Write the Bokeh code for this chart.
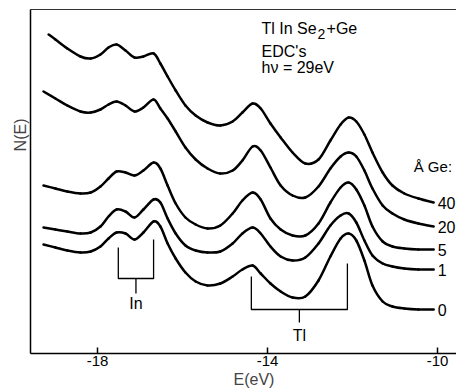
from bokeh.plotting import figure
from bokeh.models import Range1d, LinearAxis, FixedTicker, Title, ColumnDataSource
from bokeh.embed import file_html
from bokeh.resources import INLINE
from bokeh.core.properties import value

# Energy grid (eV) at which the EDC curves were read
E_GRID = [-19.27, -18.99, -18.71, -18.40, -18.16, -17.93, -17.74, -17.55, -17.34,
          -17.13, -16.92, -16.68, -16.52, -16.35, -16.16, -15.93, -15.69, -15.41,
          -15.11, -14.82, -14.59, -14.35, -14.16, -13.93, -13.69, -13.41, -13.11,
          -12.80, -12.52, -12.28, -12.09, -11.91, -11.72, -11.53, -11.29, -11.06,
          -10.78, -10.45, -10.09]
E_40 = [-19.15] + E_GRID[1:]

# N(E), arbitrary units (curves offset as in the figure)
N_40 = [319, 314, 305, 297, 295, 299, 306, 309, 303, 296, 297, 300,
        290, 277, 263, 248, 238, 231, 228, 232, 241, 250, 245, 230,
        216, 201, 190, 194, 213, 229, 236, 232, 219, 201, 181, 168,
        160, 155, 151]
N_20 = [262, 255, 248, 242, 241, 244, 249, 252, 248, 242, 246, 254,
        245, 235, 222, 206, 194, 185, 180, 183, 193, 207, 203, 186,
        168, 158, 156, 167, 185, 197, 201, 197, 183, 165, 148, 140,
        134, 130, 127]
N_5 = [168, 165, 162, 160, 161, 167, 175, 182, 181, 178, 183, 191,
       185, 168, 150, 136, 129, 125, 128, 140, 153, 161, 154, 135,
       124, 118, 118, 130, 151, 166, 171, 164, 148, 127, 112, 107,
       105, 104, 104]
N_1 = [126, 124, 122, 120, 121, 127, 137, 144, 142, 136, 144, 154,
       151, 135, 120, 108, 103, 101, 102, 110, 120, 126, 120, 107,
       97, 93, 96, 110, 128, 138, 140, 131, 113, 98, 90, 87,
       85, 84, 84]
N_0 = [109, 106, 103, 101, 102, 107, 115, 121, 120, 114, 121, 132,
       127, 110, 95, 81, 72, 68, 70, 77, 84, 88, 80, 70,
       62, 56, 57, 73, 97, 115, 120, 113, 93, 68, 52, 47,
       45, 44, 44]

COVERAGE_LABELS = ["40", "20", "5", "1", "0"]
X_TICKS = [-18, -14, -10]

# Peak markers (eV)
IN_PEAKS = [-17.51, -16.68]
TL_PEAKS = [-14.38, -12.12]

FONT = "Liberation Sans"

p = figure(width=456, height=389, output_backend="svg", toolbar_location=None,
           x_range=Range1d(-19.576, -9.553), y_range=Range1d(0, 344),
           min_border_left=30, min_border_right=0, min_border_top=9,
           min_border_bottom=36)
p.outline_line_color = None
p.xgrid.visible = False
p.ygrid.visible = False
p.background_fill_color = "white"
p.border_fill_color = "white"

# bottom axis
xa = p.xaxis[0]
xa.ticker = FixedTicker(ticks=X_TICKS)
xa.major_label_overrides = {t: str(t) for t in X_TICKS}
xa.major_tick_in = 6
xa.major_tick_out = 0
xa.minor_tick_line_color = None
xa.major_label_standoff = 2
xa.axis_line_width = 1.5
xa.major_tick_line_width = 1.5
xa.major_label_text_font = FONT
xa.major_label_text_font_size = "15px"
xa.major_label_text_color = "black"

# left axis
ya = p.yaxis[0]
ya.ticker = FixedTicker(ticks=[])
ya.major_tick_out = 0
ya.major_tick_in = 0
ya.minor_tick_line_color = None
ya.major_label_standoff = 0
ya.axis_label_standoff = 0
ya.axis_line_width = 1.5

# top border
top = LinearAxis(ticker=FixedTicker(ticks=[]), major_tick_out=0, major_tick_in=0,
                 minor_tick_line_color=None, major_label_standoff=0,
                 axis_label_standoff=0,
                 axis_line_width=1.2, axis_line_color="#333333")
p.add_layout(top, "above")

# axis titles
p.add_layout(Title(text="N(E)", align="right", offset=109, standoff=4,
                   text_font=FONT, text_font_size="16px",
                   text_font_style="normal"), "left")
p.add_layout(Title(text="E(eV)", align="left", offset=203, standoff=0,
                   text_font=FONT, text_font_size="16px",
                   text_font_style="normal"), "below")


def smooth_segments(xs, ys):
    """Catmull-Rom spline through the read points, as cubic Bezier segments."""
    px = [xs[0]] + list(xs) + [xs[-1]]
    py = [ys[0]] + list(ys) + [ys[-1]]
    seg = dict(x0=[], y0=[], x1=[], y1=[], cx0=[], cy0=[], cx1=[], cy1=[])
    for i in range(1, len(px) - 2):
        seg["x0"].append(px[i]); seg["y0"].append(py[i])
        seg["x1"].append(px[i + 1]); seg["y1"].append(py[i + 1])
        seg["cx0"].append(px[i] + (px[i + 1] - px[i - 1]) / 6)
        seg["cy0"].append(py[i] + (py[i + 1] - py[i - 1]) / 6)
        seg["cx1"].append(px[i + 1] - (px[i + 2] - px[i]) / 6)
        seg["cy1"].append(py[i + 1] - (py[i + 2] - py[i]) / 6)
    return ColumnDataSource(seg)


curves = [(E_40, N_40), (E_GRID, N_20), (E_GRID, N_5), (E_GRID, N_1), (E_GRID, N_0)]
for xs, ys in curves:
    p.bezier(x0="x0", y0="y0", x1="x1", y1="y1", cx0="cx0", cy0="cy0",
             cx1="cx1", cy1="cy1", source=smooth_segments(xs, ys),
             line_color="black", line_width=2.5, line_cap="round")

# coverage labels at the curve ends
ends = ColumnDataSource(dict(x=[c[0][-1] for c in curves],
                             y=[c[1][-1] for c in curves],
                             t=COVERAGE_LABELS))
p.text(x="x", y="y", text="t", source=ends, x_offset=4,
       text_align="left", text_baseline="middle",
       text_font=value(FONT), text_font_size="16px", text_color="black")


# peak brackets
def bracket(peaks, top_l, top_r, base, stem_end):
    l, r = peaks
    m = (l + r) / 2
    p.multi_line(xs=[[l, l, r, r], [m, m]], ys=[[top_l, base, base, top_r], [base, stem_end]],
                 line_color="black", line_width=1.3)
    return m


m_in = bracket(IN_PEAKS, 106, 114, 75, 60)
m_tl = bracket(TL_PEAKS, 77, 90, 44, 31)

anno = ColumnDataSource(dict(
    x=[m_in, m_tl, -14.14, -14.14, -14.14, -14.14, -14.14, -10.56],
    y=[50, 18, 325, 320, 325, 302, 286, 187],
    t=["In", "Tl", "Tl In Se", "2", "+Ge", "EDC's", "hν = 29eV", "Å Ge:"],
    dx=[0, 0, 0, 56, 65, 0, 0, 0],
    fs=["16px", "16px", "16px", "14px", "16px", "16px", "16px", "15px"],
    a=["center", "center", "left", "left", "left", "left", "left", "left"]))
p.text(x="x", y="y", text="t", text_align="a", x_offset="dx", text_font_size="fs",
       source=anno, text_baseline="middle", text_font=value(FONT),
       text_color="black")

open("out.html", "w").write(file_html(p, INLINE))
